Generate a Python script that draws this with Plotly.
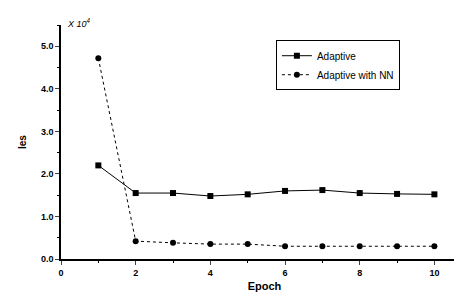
import plotly.graph_objects as go

epochs = [1, 2, 3, 4, 5, 6, 7, 8, 9, 10]
adaptive = [2.2, 1.55, 1.55, 1.48, 1.52, 1.6, 1.62, 1.55, 1.53, 1.52]
adaptive_nn = [4.72, 0.42, 0.38, 0.35, 0.35, 0.3, 0.3, 0.3, 0.3, 0.3]
y_ticks = [0, 1, 2, 3, 4, 5]
y_tick_labels = ["0.0", "1.0", "2.0", "3.0", "4.0", "5.0"]
x_ticks = [0, 2, 4, 6, 8, 10]

font = dict(family="Liberation Sans, Arial, sans-serif", color="black")

fig = go.Figure()
fig.add_trace(go.Scatter(
    x=epochs, y=adaptive, name="Adaptive", mode="lines+markers",
    line=dict(color="black", width=1),
    marker=dict(symbol="square", size=6, color="black"),
))
fig.add_trace(go.Scatter(
    x=epochs, y=adaptive_nn, name="Adaptive with NN", mode="lines+markers",
    line=dict(color="black", width=1, dash="dot"),
    marker=dict(symbol="circle", size=6, color="black"),
))

fig.update_layout(
    width=462, height=292,
    margin=dict(l=53, r=2, t=17, b=41),
    paper_bgcolor="white", plot_bgcolor="white",
    font=dict(size=9, **font),
    showlegend=True,
    legend=dict(
        x=0.528, y=0.935, xanchor="left", yanchor="top",
        bordercolor="black", borderwidth=1, bgcolor="white",
        font=dict(size=10, **font),
        tracegroupgap=0, itemwidth=30,
    ),
    xaxis=dict(
        range=[0, 10.9], tickvals=x_ticks, ticks="outside", ticklen=4,
        showline=True, linecolor="black", linewidth=1.5, showgrid=False,
        zeroline=False, tickfont=dict(size=9, weight="bold", **font),
        minor=dict(dtick=1, ticks="outside", ticklen=2, tickcolor="black"),
        title=dict(text="<b>Epoch</b>", font=dict(size=11, **font), standoff=6),
    ),
    yaxis=dict(
        range=[0, 5.5], tickvals=y_ticks, ticktext=y_tick_labels,
        ticks="outside", ticklen=4,
        showline=True, linecolor="black", linewidth=1.5, showgrid=False,
        zeroline=False, tickfont=dict(size=9, weight="bold", **font),
        minor=dict(dtick=0.5, ticks="outside", ticklen=2, tickcolor="black"),
        title=dict(text="<b>Ies</b>", font=dict(size=10, **font), standoff=12),
    ),
)
fig.add_annotation(
    x=0, y=1.0, xref="paper", yref="paper", xanchor="left", yanchor="bottom",
    xshift=4, yshift=-6,
    text="<i>X 10<sup>4</sup></i>", showarrow=False, font=dict(size=9, **font),
)

fig.write_html("out.html")
